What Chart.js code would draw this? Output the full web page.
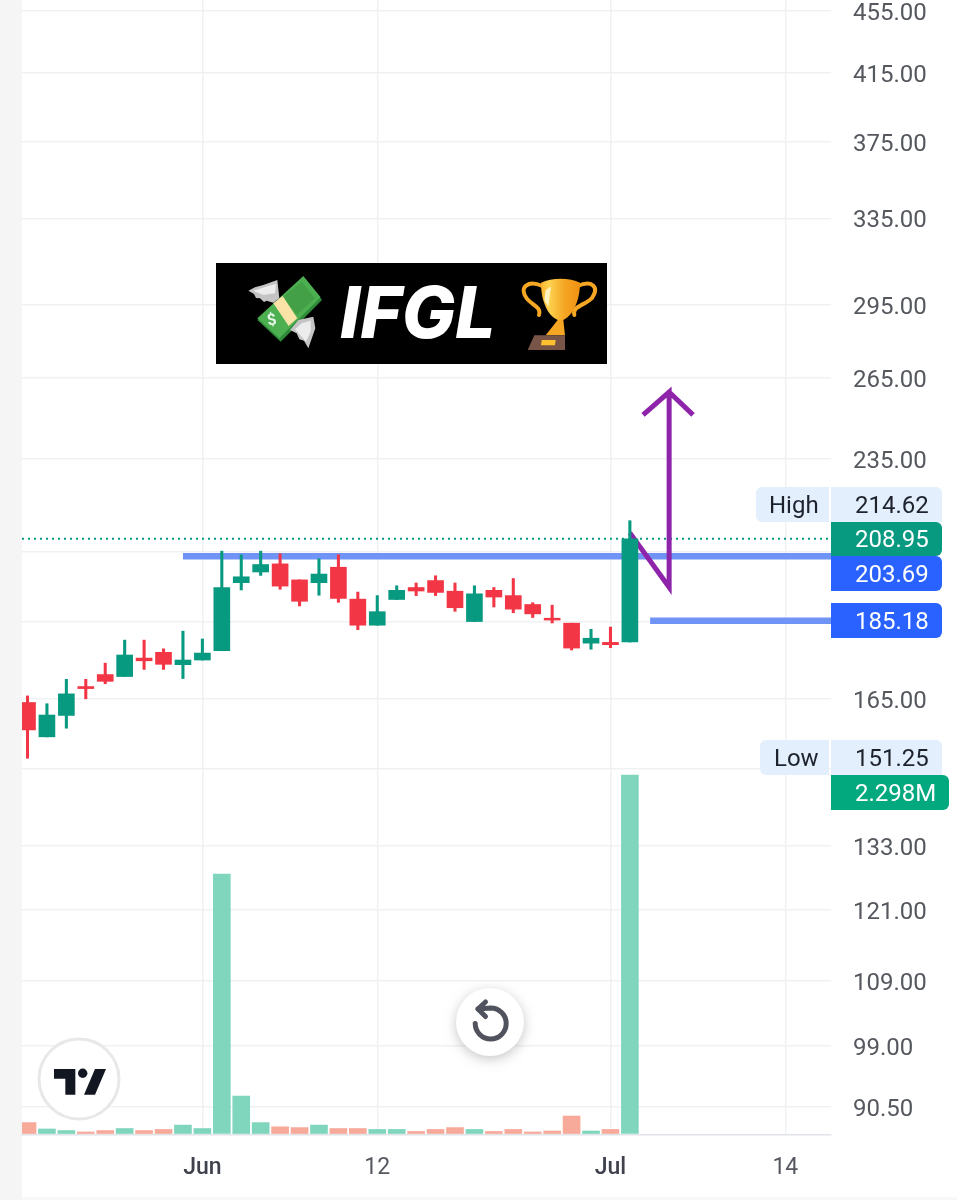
<!DOCTYPE html>
<html>
<head>
<meta charset="utf-8">
<title>IFGL</title>
<style>html,body{margin:0;padding:0;background:#fff}canvas{display:block}</style>
<script src="https://cdn.jsdelivr.net/npm/chart.js@4/dist/chart.umd.min.js"></script>
</head>
<body>
<canvas id="c" width="957" height="1200"></canvas>
<script>
// Session index (one entry per trading day)
const sessions = [0,1,2,3,4,5,6,7,8,9,10,11,12,13,14,15,16,17,18,19,20,21,22,23,24,25,26,27,28,29,30,31];
const opens  = [164.2,156.1,161.1,168.1,171.1,170.6,175.3,176.8,173.6,174.8,177.2,195.9,199.0,201.4,196.7,195.9,200.4,191.2,184.0,191.1,194.5,196.5,193.45,185.0,193.7,192.2,189.7,185.9,184.55,179.2,179.4,179.5];
const highs  = [165.8,163.9,169.9,169.9,174.0,180.0,180.0,177.7,182.4,180.3,205.2,204.1,205.2,204.4,196.7,202.9,204.1,193.2,192.2,195.0,195.8,197.9,195.8,195.0,194.5,197.1,190.2,189.5,184.55,182.9,183.5,214.62];
const lows   = [151.25,156.1,158.1,165.1,168.8,170.6,172.4,172.4,170.1,174.8,177.2,193.8,198.0,194.0,189.3,192.3,190.3,182.8,184.0,191.1,192.2,192.2,187.8,185.0,189.0,187.4,186.1,184.6,177.4,177.6,178.0,179.5];
const closes = [157.7,161.2,166.3,167.6,169.4,176.1,174.6,173.7,174.8,176.6,194.5,197.6,201.2,194.9,190.6,198.4,191.4,184.0,187.7,193.7,193.5,193.1,188.8,192.7,191.8,188.4,187.1,185.4,177.9,180.5,178.8,208.95];
const volumes = [70000,29000,19000,10000,19000,32000,19000,26000,54000,32000,1663000,240000,70000,43000,38000,54000,32000,32000,26000,26000,13000,26000,38000,26000,13000,26000,10000,16000,112000,16000,26000,2298000];
const volumeUp = [0,1,1,0,0,1,0,0,1,1,1,1,1,0,0,1,0,0,1,1,0,0,0,1,0,0,0,0,0,1,0,1];

const priceTicks = [455,415,375,335,295,265,235,205,185,165,149,133,121,109,99,90.5];
const dateTickPositions = [9,18,30,39];
const dateTickLabels = ["Jun","12","Jul","14"];

const lastPrice = 208.95, rangeHigh = 214.62, rangeLow = 151.25;
const resistance = 203.69, support = 185.18;
const resistanceFrom = 8, supportFrom = 32.04;
const arrowX = [31, 33.02, 33.02, 31.68, 33.02, 34.25];
const arrowY = [210.8, 194.6, 259.4, 250.8, 259.4, 250.8];
const xMin = -0.283, xMax = 41.35;
const pMin = 86.84, pMax = 462.1;
const vMin = -9600, vMax = 7265000;

const UP = '#089981', DOWN = '#f23645';
const font = 'Roboto, sans-serif';

function rr(ctx,x,y,w,h,r){ctx.beginPath();ctx.roundRect(x,y,w,h,r);}
function tag(ctx,x,y,w,h,radii,bg,text,tx,col,weight){
  ctx.fillStyle=bg;rr(ctx,x,y,w,h,radii);ctx.fill();
  ctx.fillStyle=col;ctx.font=(weight||400)+' 24px '+font;ctx.textAlign='left';ctx.textBaseline='middle';
  ctx.fillText(text,tx,y+h/2+2);
}
function poly(ctx,pts,off,fill){
  ctx.beginPath();pts.forEach((p,i)=>{const X=off[0]+p[0]/3,Y=off[1]+p[1]/3;i?ctx.lineTo(X,Y):ctx.moveTo(X,Y);});ctx.closePath();
  ctx.fillStyle=fill;ctx.fill();
}
function drawMoney(ctx){
  const o=[240,270];
  poly(ctx,[[52,150],[190,22],[246,90],[122,215]],o,'#2e8b3a');
  poly(ctx,[[52,145],[190,18],[242,82],[118,205]],o,'#4caf50');
  poly(ctx,[[130,80],[185,35],[225,85],[170,135]],o,'#43a047');
  poly(ctx,[[100,100],[128,78],[172,145],[146,168]],o,'#fbe3a7');
  // wings
  poly(ctx,[[25,62],[45,52],[70,45],[112,30],[118,85],[100,98],[80,92],[72,96],[60,85],[48,84],[42,72]],o,'#c4c4c4');
  poly(ctx,[[40,62],[85,48],[108,42],[105,70],[70,75]],o,'#ececec');
  poly(ctx,[[150,180],[175,150],[220,140],[226,175],[205,235],[192,212],[178,208],[170,190]],o,'#c4c4c4');
  poly(ctx,[[165,178],[185,160],[212,152],[212,185],[198,215]],o,'#ececec');
  ctx.fillStyle='#e8f5e9';ctx.font='700 16px '+font;ctx.textAlign='center';ctx.textBaseline='middle';
  ctx.save();ctx.translate(272,321);ctx.rotate(-0.2);ctx.fillText('$',0,0);ctx.restore();
}
function drawTrophy(ctx){
  const ox=515,oy=270,P=(x,y)=>[ox+x/3,oy+y/3];
  ctx.lineWidth=4;ctx.strokeStyle='#f5a623';ctx.lineCap='round';
  ctx.beginPath();ctx.moveTo(...P(82,48));ctx.bezierCurveTo(...P(40,30),...P(10,50),...P(35,85));ctx.bezierCurveTo(...P(50,105),...P(80,110),...P(72,135));ctx.stroke();
  ctx.beginPath();ctx.moveTo(...P(188,48));ctx.bezierCurveTo(...P(230,30),...P(255,50),...P(230,85));ctx.bezierCurveTo(...P(210,105),...P(170,110),...P(178,135));ctx.stroke();
  const g=ctx.createLinearGradient(ox+70/3,0,ox+200/3,0);g.addColorStop(0,'#f9a825');g.addColorStop(.25,'#fdd24f');g.addColorStop(.6,'#f5a623');g.addColorStop(1,'#ef8f10');
  ctx.fillStyle=g;ctx.beginPath();ctx.moveTo(...P(78,38));ctx.bezierCurveTo(...P(110,22),...P(165,22),...P(195,38));ctx.bezierCurveTo(...P(195,95),...P(170,145),...P(137,152));ctx.bezierCurveTo(...P(100,145),...P(78,95),...P(78,38));ctx.fill();
  poly(ctx,[[92,60],[108,50],[100,110],[88,90]],[ox,oy],'#fff2c0');
  poly(ctx,[[128,150],[145,150],[150,196],[92,196]],[ox,oy],'#f5a623');
  poly(ctx,[[58,196],[150,196],[150,240],[38,240]],[ox,oy],'#795548');
  poly(ctx,[[80,210],[122,210],[120,226],[78,226]],[ox,oy],'#fdc02f');
}
const overlay = {
  id:'overlay',
  beforeDraw(chart){
    const c=chart.ctx;
    c.save();c.fillStyle='#fff';c.fillRect(0,0,957,1200);
    c.fillStyle='#f5f5f5';c.fillRect(0,0,22,1200);
    c.fillStyle='#f8f8f8';c.fillRect(22,1197,935,3);
    c.restore();
  },
  afterDraw(chart){
    const c=chart.ctx;c.save();
    // price tags
    const L='#e3effd',D='#1e222d',W='#fff';
    tag(c,756,487,73,35,[6,0,0,6],L,'High',769,D);
    tag(c,831,487,111,35,[0,6,0,0],L,rangeHigh.toFixed(2),855,D);
    tag(c,760,740,69,35,[6,0,0,6],L,'Low',774,D);
    tag(c,831,740,111,35,[0,6,0,0],L,rangeLow.toFixed(2),855,D);
    tag(c,831,603,111,35,[0,6,6,0],'#2962ff',support.toFixed(2),855,W);
    tag(c,831,556,111,35,[0,6,6,0],'#2962ff',resistance.toFixed(2),855,W);
    tag(c,831,522,111,34,[0,6,6,0],UP,lastPrice.toFixed(2),855,W);
    tag(c,831,775,118,35,[0,6,6,0],'#03a97e','2.298M',855,W);
    // title panel
    c.fillStyle='#000';c.fillRect(216,263,391,101);
    c.fillStyle='#fff';c.font='italic 800 71px Inter, "Liberation Sans", sans-serif';c.textAlign='left';c.textBaseline='alphabetic';
    c.fillText('IFGL',340,338);
    drawMoney(c);drawTrophy(c);
    // TradingView badge
    c.beginPath();c.arc(79,1079,40,0,Math.PI*2);c.fillStyle='#fff';c.fill();c.lineWidth=3;c.strokeStyle='#e8e8e8';c.stroke();
    const o=[30,1030],K='#131722';
    poly(c,[[72,117],[136,117],[136,194],[106,194],[106,146],[72,146]],o,K);
    poly(c,[[195,117],[228,117],[195,194],[162,194]],o,K);
    c.beginPath();c.arc(82.7,1073.3,4.7,0,Math.PI*2);c.fillStyle=K;c.fill();
    // reset button
    c.save();c.shadowColor='rgba(0,0,0,.22)';c.shadowBlur=12;c.shadowOffsetY=3;c.beginPath();c.arc(490,1022,34,0,Math.PI*2);c.fillStyle='#fff';c.fill();c.restore();
    c.strokeStyle='#50535e';c.lineWidth=5;c.lineCap='round';c.lineJoin='round';
    c.beginPath();c.arc(490.7,1023.5,15.5,Math.PI,-Math.PI*0.5,true);c.lineTo(478,1009);c.stroke();
    c.beginPath();c.moveTo(485.5,1002);c.lineTo(478,1009);c.lineTo(485.5,1016.5);c.stroke();
    c.restore();
  }
};
const noPad = s => {s.paddingTop=0;s.paddingBottom=0;s.paddingLeft=0;s.paddingRight=0;};
const tick = {color:'#eff1f3',lineWidth:1.5};
new Chart(document.getElementById('c'),{
  data:{
    datasets:[
      {type:'bar',label:'Volume',xAxisID:'x',yAxisID:'v',order:10,grouped:false,barThickness:17,
       data:sessions.map((s,i)=>({x:s,y:volumes[i]})),
       backgroundColor:volumeUp.map(u=>u?'#80d6bd':'#f7a99a')},
      {type:'line',label:'Resistance',xAxisID:'x',yAxisID:'y',order:9,borderColor:'#7094f5',borderWidth:6.5,pointRadius:0,
       data:[{x:resistanceFrom,y:resistance},{x:xMax,y:resistance}]},
      {type:'line',label:'Support',xAxisID:'x',yAxisID:'y',order:9,borderColor:'#7094f5',borderWidth:6.5,pointRadius:0,
       data:[{x:supportFrom,y:support},{x:xMax,y:support}]},
      {type:'line',label:'Last',xAxisID:'x',yAxisID:'y',order:8,borderColor:UP,borderWidth:2,borderDash:[2,4],pointRadius:0,
       data:[{x:xMin,y:lastPrice},{x:xMax,y:lastPrice}]},
      {type:'line',label:'Arrow',xAxisID:'x',yAxisID:'y',order:7,borderColor:'#8e24aa',borderWidth:5,pointRadius:0,borderJoinStyle:'miter',
       data:arrowX.map((x,i)=>({x,y:arrowY[i]}))},
      {type:'bar',label:'Wick',xAxisID:'x',yAxisID:'y',order:3,grouped:false,barThickness:2.4,
       data:sessions.map((s,i)=>({x:s,y:[lows[i],highs[i]]})),
       backgroundColor:sessions.map((s,i)=>closes[i]>=opens[i]?UP:DOWN)},
      {type:'bar',label:'Body',xAxisID:'x',yAxisID:'y',order:2,grouped:false,barThickness:16,
       data:sessions.map((s,i)=>({x:s,y:[opens[i],closes[i]]})),
       backgroundColor:sessions.map((s,i)=>closes[i]>=opens[i]?UP:DOWN)}
    ]
  },
  options:{
    responsive:false,animation:false,devicePixelRatio:1,
    layout:{padding:{left:22,right:0,top:0,bottom:0}},
    plugins:{legend:{display:false},tooltip:{enabled:false}},
    scales:{
      x:{type:'linear',position:'bottom',min:xMin,max:xMax,offset:false,
        afterBuildTicks(s){s.ticks=dateTickPositions.map(v=>({value:v}));},
        afterFit(s){s.height=65;noPad(s);},
        grid:{offset:false,color:tick.color,lineWidth:tick.lineWidth,drawTicks:false},
        border:{color:'#e0e3e8',width:1.5},
        ticks:{autoSkip:false,maxRotation:0,padding:19,
          callback(v){return dateTickLabels[dateTickPositions.indexOf(v)];},
          color:c=>c.index%2===0?'#3f424d':'#55585f',
          font:c=>({family:font,size:23,weight:c.index%2===0?500:400})}},
      y:{type:'logarithmic',position:'right',min:pMin,max:pMax,
        afterBuildTicks(s){s.ticks=priceTicks.map(v=>({value:v}));},
        afterFit(s){s.width=126;noPad(s);},
        grid:{color:tick.color,lineWidth:tick.lineWidth,drawTicks:false},
        border:{display:false},
        ticks:{autoSkip:false,padding:22,crossAlign:'near',align:'center',labelOffset:3,
          callback(v){return Number(v).toFixed(2);},
          color:'#55585f',font:{family:font,size:24}}},
      v:{type:'linear',display:false,min:vMin,max:vMax}
    }
  },
  plugins:[overlay]
});
</script>
</body>
</html>
